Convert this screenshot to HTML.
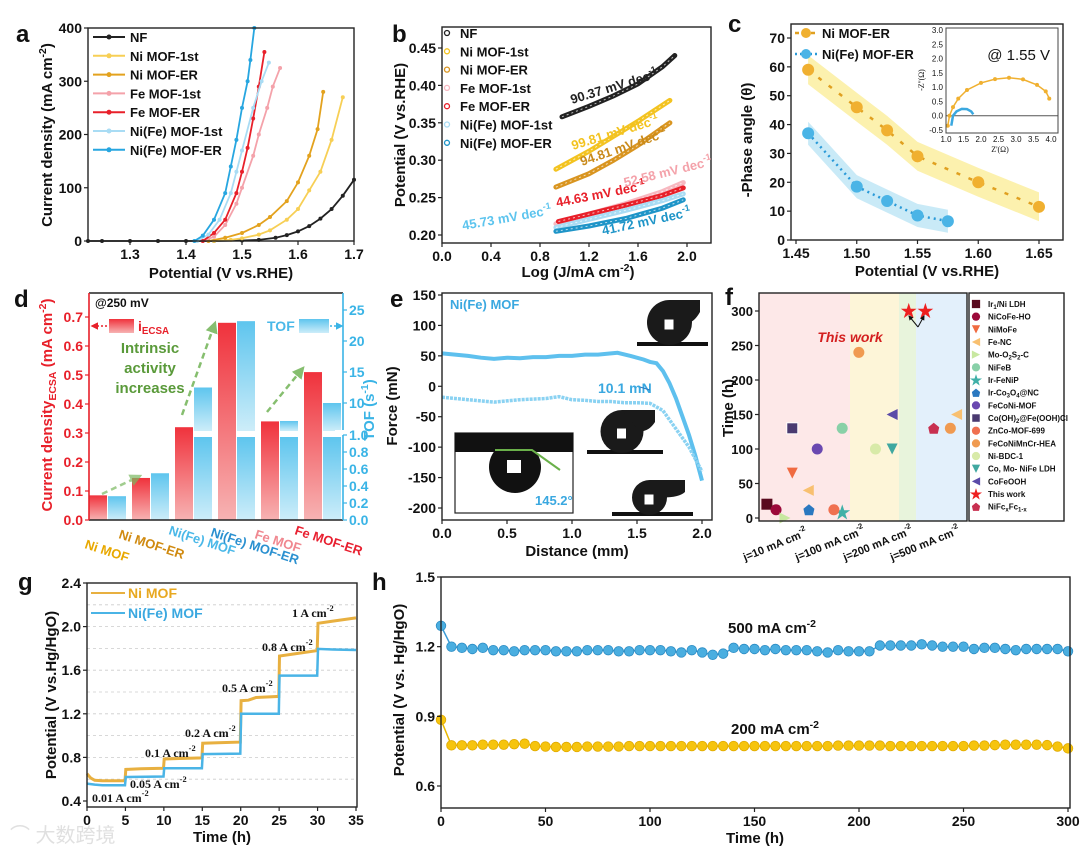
<!DOCTYPE html>
<html><head><meta charset="utf-8"><style>
html,body{margin:0;padding:0;background:#fff;}
svg{display:block;font-family:"Liberation Sans","Noto Sans CJK SC",sans-serif;}
</style></head><body>
<svg id="fig" width="1080" height="854" viewBox="0 0 1080 854" xmlns="http://www.w3.org/2000/svg">
<defs>
<linearGradient id="gr" x1="0" y1="0" x2="0" y2="1"><stop offset="0" stop-color="#f0323c"/><stop offset="1" stop-color="#f7b3b3"/></linearGradient>
<linearGradient id="gb" x1="0" y1="0" x2="0" y2="1"><stop offset="0" stop-color="#5ec5ee"/><stop offset="1" stop-color="#cdedf9"/></linearGradient>
<marker id="ah" viewBox="0 0 10 10" refX="8" refY="5" markerWidth="5" markerHeight="5" orient="auto"><path d="M0,0L10,5L0,10z" fill="context-stroke"/></marker>
</defs>
</svg>
<script>
// ---------- DATA ----------
const aNames=["NF","Ni MOF-1st","Ni MOF-ER","Fe MOF-1st","Fe MOF-ER","Ni(Fe) MOF-1st","Ni(Fe) MOF-ER"];
const aX=[[1.225,1.25,1.3,1.35,1.4,1.45,1.5,1.53,1.56,1.58,1.6,1.62,1.64,1.66,1.68,1.7],
[1.45,1.48,1.5,1.53,1.55,1.58,1.6,1.62,1.64,1.66,1.68],
[1.44,1.47,1.5,1.53,1.55,1.58,1.6,1.62,1.635,1.645],
[1.43,1.45,1.47,1.49,1.5,1.52,1.53,1.545,1.555,1.568],
[1.43,1.45,1.47,1.49,1.5,1.51,1.52,1.53,1.54],
[1.42,1.44,1.46,1.48,1.49,1.5,1.52,1.535,1.548],
[1.415,1.43,1.45,1.47,1.48,1.49,1.5,1.51,1.515,1.522]];
const aY=[[0,0,0,0,0,0,1,2,6,11,18,28,42,60,85,115],
[0,2,5,12,20,40,60,95,130,190,270],
[0,6,15,30,45,75,110,160,210,280],
[0,8,30,70,100,160,200,250,290,325],
[0,15,40,90,130,175,230,290,355],
[0,12,40,90,130,170,250,300,335],
[0,10,40,90,140,190,250,300,340,400]];
const aCol=["#222","#f7cf55","#e3a21e","#f4a2aa","#e8202a","#a9dcf4","#27a6e0"];
const bX=[[0.98,1.2,1.4,1.6,1.8,1.9],[0.93,1.2,1.4,1.6,1.86],[0.93,1.2,1.4,1.6,1.86],[0.93,1.2,1.5,1.8,1.97],[0.95,1.2,1.5,1.8,1.97],[0.93,1.2,1.5,1.8,1.97],[0.93,1.2,1.5,1.8,1.97]];
const bY=[[0.358,0.372,0.386,0.402,0.425,0.44],[0.288,0.312,0.332,0.352,0.38],[0.264,0.282,0.3,0.32,0.35],[0.215,0.228,0.242,0.258,0.27],[0.218,0.228,0.24,0.253,0.263],[0.21,0.221,0.233,0.246,0.255],[0.205,0.212,0.222,0.236,0.247]];
const bCol=["#222","#f3c320","#d99520","#f7b8c0","#e8202a","#a9dcf4","#1f95c8"];
const bSlopes=["90.37 mV dec","99.81 mV dec","94.81 mV dec","52.58 mV dec","44.63 mV dec","45.73 mV dec","41.72 mV dec"];
const cXni=[1.46,1.50,1.525,1.55,1.60,1.65], cYni=[59,46,38,29,20,11.5];
const cXfe=[1.46,1.50,1.525,1.55,1.575], cYfe=[37,18.5,13.5,8.5,6.5];
const inXni=[1.05,1.1,1.2,1.35,1.6,2.0,2.4,2.8,3.2,3.6,3.85,3.95], inYni=[-0.35,0,0.3,0.6,0.9,1.15,1.28,1.33,1.27,1.08,0.85,0.6];
const inXfe=[1.15,1.2,1.3,1.45,1.6,1.72,1.78], inYfe=[-0.35,0,0.15,0.24,0.23,0.15,0.05];
const dCats=["Ni MOF","Ni MOF-ER","Ni(Fe) MOF","Ni(Fe) MOF-ER","Fe MOF","Fe MOF-ER"];
const dEcsa=[0.085,0.145,0.32,0.68,0.34,0.51];
const dTof=[0.28,0.55,12.5,23.2,7.1,10];
const eXup=[0,0.1,0.2,0.3,0.4,0.5,0.6,0.7,0.8,0.9,1.0,1.1,1.2,1.3,1.35,1.45,1.55,1.6,1.65,1.7,1.75,1.8,1.85,1.9,1.95,2.0];
const eYup=[54,52,50,47,45,47,46,48,48,50,50,52,52,54,55,50,44,40,38,25,5,-20,-50,-80,-115,-155];
const eXlo=[0,0.1,0.2,0.3,0.4,0.5,0.6,0.7,0.8,0.9,1.0,1.1,1.2,1.3,1.4,1.5,1.6,1.7,1.75,1.8,1.85,1.9,1.95,2.0];
const eYlo=[-18,-20,-22,-24,-26,-24,-22,-21,-20,-17,-22,-23,-25,-25,-27,-27,-28,-40,-55,-70,-85,-100,-120,-140];
const fNames=["Ir1/Ni LDH","NiCoFe-HO","NiMoFe","Fe-NC","Mo-O2S2-C","NiFeB","Ir-FeNiP","Ir-Co3O4@NC","FeCoNi-MOF","Co(OH)2@Fe(OOH)Cl","ZnCo-MOF-699","FeCoNiMnCr-HEA","Ni-BDC-1","Co, Mo- NiFe LDH","CoFeOOH","This work","NiFcxFc1-x"];
const fLeg=["Ir<tspan font-size='6' dy='2'>1</tspan><tspan dy='-2'>/Ni LDH</tspan>","NiCoFe-HO","NiMoFe","Fe-NC","Mo-O<tspan font-size='6' dy='2'>2</tspan><tspan dy='-2'>S</tspan><tspan font-size='6' dy='2'>2</tspan><tspan dy='-2'>-C</tspan>","NiFeB","Ir-FeNiP","Ir-Co<tspan font-size='6' dy='2'>3</tspan><tspan dy='-2'>O</tspan><tspan font-size='6' dy='2'>4</tspan><tspan dy='-2'>@NC</tspan>","FeCoNi-MOF","Co(OH)<tspan font-size='6' dy='2'>2</tspan><tspan dy='-2'>@Fe(OOH)Cl</tspan>","ZnCo-MOF-699","FeCoNiMnCr-HEA","Ni-BDC-1","Co, Mo- NiFe LDH","CoFeOOH","This work","NiFc<tspan font-size='6' dy='2'>x</tspan><tspan dy='-2'>Fc</tspan><tspan font-size='6' dy='2'>1-x</tspan>"];
const fCol=["#5a0a1e","#9c0a3a","#f06a40","#f8c070","#c8e8a0","#88d0a8","#40b0a8","#2a78c0","#6a48b0","#4a3a70","#f07050","#f09a50","#d8eaa8","#40a8a0","#5a4aa8","#ee2020","#c83050"];
const fShape=["sq","ci","tri","tl","tr","ci","star","pent","ci","sqh","ci","ci","ci","tri","tl","star","pent"];
const fPos=[[3.8],[8.2],[16],[23.7,95],[12.5],[40],[40],[24],[28],[16],[36],[48,92],[56],[64],[64],[72,80],[84]];
const fHrs=[[20],[12],[65],[40,150],[0],[130],[8],[12],[100],[130],[12],[240,130],[100],[100],[150],[300,300],[130]];
const fCatLabels=["j=10 mA cm","j=100 mA cm","j=200 mA cm","j=500 mA cm"];
const gTni=[0,0.5,1,2,3,4,4.95,5.05,7,9.95,10.05,12,14.95,15.05,17,19.95,20.05,21,22,24.95,25.05,27,29.95,30.05,32,35];
const gVni=[0.65,0.61,0.59,0.585,0.585,0.585,0.585,0.69,0.695,0.70,0.785,0.79,0.795,0.93,0.935,0.94,1.32,1.325,1.35,1.36,1.73,1.75,1.78,2.03,2.05,2.08];
const gTfe=[0,1,2,4.95,5.05,9.95,10.05,14.95,15.05,19.95,20.05,24.95,25.05,29.95,30.05,32,35];
const gVfe=[0.56,0.55,0.545,0.545,0.62,0.625,0.70,0.70,0.83,0.835,1.20,1.20,1.55,1.55,1.795,1.79,1.785];
const gSteps=["0.01 A cm","0.05 A cm","0.1 A cm","0.2 A cm","0.5 A cm","0.8 A cm","1 A cm"];
const hT=[0,5,10,15,20,25,30,35,40,45,50,55,60,65,70,75,80,85,90,95,100,105,110,115,120,125,130,135,140,145,150,155,160,165,170,175,180,185,190,195,200,205,210,215,220,225,230,235,240,245,250,255,260,265,270,275,280,285,290,295,300];
const h500=[1.29,1.2,1.195,1.19,1.195,1.185,1.185,1.18,1.185,1.185,1.185,1.18,1.18,1.18,1.185,1.185,1.185,1.18,1.18,1.185,1.185,1.185,1.18,1.175,1.185,1.175,1.165,1.17,1.195,1.19,1.19,1.185,1.19,1.185,1.185,1.185,1.18,1.175,1.185,1.18,1.18,1.18,1.205,1.205,1.205,1.205,1.21,1.205,1.2,1.2,1.2,1.19,1.195,1.195,1.19,1.185,1.19,1.19,1.19,1.19,1.18];
const h200=[0.885,0.775,0.775,0.775,0.778,0.778,0.778,0.78,0.782,0.772,0.77,0.768,0.768,0.768,0.77,0.77,0.77,0.77,0.772,0.772,0.772,0.772,0.772,0.772,0.772,0.772,0.772,0.772,0.772,0.772,0.772,0.772,0.772,0.772,0.772,0.772,0.772,0.772,0.774,0.774,0.774,0.774,0.774,0.772,0.772,0.772,0.772,0.772,0.772,0.772,0.772,0.774,0.774,0.776,0.778,0.778,0.778,0.778,0.776,0.77,0.762];

// ---------- HELPERS ----------
const NS="http://www.w3.org/2000/svg";
const svg=document.getElementById('fig');
function mk(tag,a,p){const e=document.createElementNS(NS,tag);for(const k in a)e.setAttribute(k,a[k]);(p||svg).appendChild(e);return e;}
function nm(e,n){


return e;}
function lin(d0,d1,r0,r1){return v=>r0+(v-d0)*(r1-r0)/(d1-d0);}
function T(x,y,html,size,o,name){o=o||{};const t=mk('text',{x:x,y:y,'font-size':size,'font-weight':o.w||'bold',fill:o.fill||'#111','text-anchor':o.a||'start'});
if(o.rot!==undefined)t.setAttribute('transform','rotate('+o.rot+' '+x+' '+y+')');
if(o.fam)t.setAttribute('font-family',o.fam);if(o.st)t.setAttribute('font-style',o.st);
t.innerHTML=html;nm(t,name||'label');return t;}
const SUP=s=>"<tspan font-size='70%' dy='-6'>"+s+"</tspan>";
function box(x0,y0,x1,y1,name){const r=mk('rect',{x:x0,y:y0,width:x1-x0,height:y1-y0,fill:'none',stroke:'#222','stroke-width':1.4});nm(r,name);}
function xt(vals,s,yb,fmt,fs,col){vals.forEach(v=>{const l=mk('line',{x1:s(v),y1:yb,x2:s(v),y2:yb+4,stroke:col||'#222','stroke-width':1.2});nm(l,'x-tick');T(s(v),yb+18,fmt(v),fs||14,{a:'middle',fill:col||'#111'},'x-tick-label');});}
function yt(vals,s,xl,fmt,fs,col,right){vals.forEach(v=>{const d=right?4:-4;const l=mk('line',{x1:xl,y1:s(v),x2:xl+d,y2:s(v),stroke:col||'#222','stroke-width':1.2});nm(l,'y-tick');T(right?xl+6:xl-6,s(v)+5,fmt(v),fs||14,{a:right?'start':'end',fill:col||'#111'},'y-tick-label');});}
function poly(xs,ys,sx,sy,a,name){const pts=xs.map((x,i)=>sx(x).toFixed(1)+','+sy(ys[i]).toFixed(1)).join(' ');const p=mk('polyline',Object.assign({points:pts,fill:'none'},a));nm(p,name);return p;}
function path(d,a,name){const p=mk('path',Object.assign({d:d},a));nm(p,name);return p;}
function band(xs,ys,sx,sy,w,col,name){
const up=xs.map((x,i)=>sx(x).toFixed(1)+','+sy(ys[i]+w).toFixed(1));
const lo=xs.map((x,i)=>sx(x).toFixed(1)+','+sy(ys[i]-w).toFixed(1)).reverse();
const p=mk('polygon',{points:up.concat(lo).join(' '),fill:col,opacity:0.85});nm(p,name);}

// ---------- PANEL A ----------
(function(){
const sx=lin(1.3,1.7,130,354), sy=lin(0,400,241,28);
T(16,42,'a',24,{},'panel-a-letter');
aX.forEach((xs,i)=>{poly(xs,aY[i],sx,sy,{stroke:aCol[i],'stroke-width':1.8},'lsv-curve-'+i);
xs.forEach((x,j)=>{const c=mk('circle',{cx:sx(x),cy:sy(aY[i][j]),r:2,fill:aCol[i]});nm(c,'lsv-point');});});
box(88,28,354,241,'panel-a-plot-area');
xt([1.3,1.4,1.5,1.6,1.7],sx,241,v=>v.toFixed(1));
yt([0,100,200,300,400],sy,88,v=>v);
T(221,278,'Potential (V vs.RHE)',15,{a:'middle'},'x-axis-title');
T(52,135,'Current density (mA cm'+SUP('-2')+"<tspan dy='6'>)</tspan>",15,{a:'middle',rot:-90},'y-axis-title');
aNames.forEach((n,i)=>{const y=37+i*18.8;const l=mk('line',{x1:93,y1:y,x2:125,y2:y,stroke:aCol[i],'stroke-width':2});nm(l,'legend-line');
const c=mk('circle',{cx:109,cy:y,r:2.5,fill:aCol[i]});nm(c,'legend-marker');T(130,y+5,n,13,{},'legend-entry');});
})();

// ---------- PANEL B ----------
(function(){
const sx=lin(0,2,442,687), sy=lin(0.2,0.45,235,48);
T(392,42,'b',24,{},'panel-b-letter');
bX.forEach((xs,i)=>{poly(xs,bY[i],sx,sy,{stroke:bCol[i],'stroke-width':5,'stroke-linecap':'round'},'tafel-line-'+i);
poly(xs,bY[i],sx,sy,{stroke:'#fff','stroke-width':1,'stroke-dasharray':'2 3','opacity':0.7},'tafel-texture');});
box(442,27,711,243,'panel-b-plot-area');
xt([0,0.4,0.8,1.2,1.6,2.0],sx,243,v=>v.toFixed(1));
yt([0.2,0.25,0.3,0.35,0.4,0.45],sy,442,v=>v.toFixed(2));
T(578,277,'Log (J/mA cm'+SUP('-2')+"<tspan dy='6'>)</tspan>",15,{a:'middle'},'x-axis-title');
T(405,135,'Potential (V vs.RHE)',15,{a:'middle',rot:-90},'y-axis-title');
aNames.forEach((n,i)=>{const y=33+i*18.3;const c=mk('circle',{cx:447,cy:y,r:2.5,fill:'none',stroke:bCol[i],'stroke-width':1.3});nm(c,'legend-marker');T(460,y+5,n,13,{},'legend-entry');});
const lab=[[572,104,-17,'#222'],[573,150,-17,'#f3c320'],[582,166,-19,'#c98a1a'],[625,187,-14,'#f4a2aa'],[557,207,-11,'#e8202a'],[463,230,-10,'#5cc4ee'],[603,235,-12,'#1f95c8']];
lab.forEach((L,i)=>T(L[0],L[1],bSlopes[i]+SUP('-1'),13,{fill:L[3],rot:L[2]},'slope-label'));
})();

// ---------- PANEL C ----------
(function(){
const sx=lin(1.45,1.65,796,1039), sy=lin(0,70,240,38);
T(728,32,'c',24,{},'panel-c-letter');
band(cXni,cYni,sx,sy,5,'#fbeea0','ni-band');
band(cXfe,cYfe,sx,sy,4,'#bfe6f6','nife-band');
poly(cXni,cYni,sx,sy,{stroke:'#e0a020','stroke-width':2.5,'stroke-dasharray':'4 9'},'ni-mof-er-line');
poly(cXfe,cYfe,sx,sy,{stroke:'#2a9ad8','stroke-width':2.5,'stroke-dasharray':'2 4'},'nife-mof-er-line');
cXni.forEach((x,i)=>{const c=mk('circle',{cx:sx(x),cy:sy(cYni[i]),r:6,fill:'#f0b030'});nm(c,'ni-point');});
cXfe.forEach((x,i)=>{const c=mk('circle',{cx:sx(x),cy:sy(cYfe[i]),r:6,fill:'#4ab4e6'});nm(c,'nife-point');});
box(791,24,1063,240,'panel-c-plot-area');
xt([1.45,1.5,1.55,1.6,1.65],sx,240,v=>v.toFixed(2));
yt([0,10,20,30,40,50,60,70],sy,791,v=>v);
T(927,276,'Potential (V vs.RHE)',15,{a:'middle'},'x-axis-title');
T(752,140,'-Phase angle (θ)',15,{a:'middle',rot:-90},'y-axis-title');
const l1=mk('line',{x1:795,y1:33,x2:818,y2:33,stroke:'#e0a020','stroke-width':2.5,'stroke-dasharray':'4 4'});nm(l1,'legend-line');
const m1=mk('circle',{cx:806,cy:33,r:5,fill:'#f0b030'});nm(m1,'legend-marker');
T(822,38,'Ni MOF-ER',13,{},'legend-entry');
const l2=mk('line',{x1:795,y1:54,x2:818,y2:54,stroke:'#2a9ad8','stroke-width':2.5,'stroke-dasharray':'2 3'});nm(l2,'legend-line');
const m2=mk('circle',{cx:806,cy:54,r:5,fill:'#4ab4e6'});nm(m2,'legend-marker');
T(822,59,'Ni(Fe) MOF-ER',13,{},'legend-entry');
const ix=lin(1,4,946,1051), iy=lin(-0.5,3,130,30);
const bg=mk('rect',{x:922,y:28,width:136,height:105,fill:'#fff'});nm(bg,'inset-background');
const z=mk('line',{x1:946,y1:iy(0),x2:1058,y2:iy(0),stroke:'#555','stroke-width':1});nm(z,'inset-zero-line');
poly(inXni,inYni,ix,iy,{stroke:'#f0b030','stroke-width':1.5},'inset-ni-curve');
inXni.forEach((x,i)=>{const c=mk('circle',{cx:ix(x),cy:iy(inYni[i]),r:2,fill:'#f0b030'});nm(c,'inset-ni-point');});
poly(inXfe,inYfe,ix,iy,{stroke:'#3aa8e0','stroke-width':2.5},'inset-nife-curve');
const ib=mk('rect',{x:946,y:28,width:112,height:105,fill:'none',stroke:'#444','stroke-width':1});nm(ib,'inset-frame');
[1,1.5,2,2.5,3,3.5,4].forEach(v=>T(ix(v),142,v.toFixed(1),8,{a:'middle',w:'normal'},'inset-x-tick'));
[-0.5,0,0.5,1,1.5,2,2.5,3].forEach(v=>T(943,iy(v)+3,v.toFixed(1),8,{a:'end',w:'normal'},'inset-y-tick'));
T(1000,152,"Z'(Ω)",8,{a:'middle',w:'normal',fam:'Liberation Serif'},'inset-x-title');
T(924,80,"-Z''(Ω)",8,{a:'middle',w:'normal',rot:-90,fam:'Liberation Serif'},'inset-y-title');
T(1050,60,'@ 1.55 V',15,{a:'end',w:'normal'},'inset-annotation');
})();

// ---------- PANEL D ----------
(function(){
const sy=lin(0,0.7,520,317), tLo=lin(0,1,520,435), tHi=lin(10,25,403,310);
T(14,307,'d',24,{},'panel-d-letter');
dCats.forEach((c,i)=>{const cx=108+i*43;
const r=mk('rect',{x:cx-19,y:sy(dEcsa[i]),width:18,height:520-sy(dEcsa[i]),fill:'url(#gr)'});nm(r,'ecsa-bar');
const v=dTof[i];
if(v<=1){const b=mk('rect',{x:cx,y:tLo(v),width:18,height:520-tLo(v),fill:'url(#gb)'});nm(b,'tof-bar');}
else{const b=mk('rect',{x:cx,y:437,width:18,height:83,fill:'url(#gb)'});nm(b,'tof-bar-lower');
const b2=mk('rect',{x:cx,y:tHi(v),width:18,height:431-tHi(v),fill:'url(#gb)'});nm(b2,'tof-bar-upper');}
});
const lcol=["#e8a800","#d08a10","#4ab8e8","#2a90d0","#f08890","#e82030"];
const lx=[[84,548],[118,538],[168,534],[210,536],[254,538],[294,534]];
dCats.forEach((c,i)=>T(lx[i][0],lx[i][1],c,13,{fill:lcol[i],rot:18},'category-label'));
const ax=mk('line',{x1:89,y1:520,x2:343,y2:520,stroke:'#222','stroke-width':1.4});nm(ax,'x-axis');
const lt=mk('line',{x1:89,y1:293,x2:343,y2:293,stroke:'#222','stroke-width':1.4});nm(lt,'top-frame');
const la=mk('line',{x1:89,y1:293,x2:89,y2:520,stroke:'#e8202a','stroke-width':1.6});nm(la,'left-axis');
const ra=mk('line',{x1:343,y1:293,x2:343,y2:520,stroke:'#3ab4e6','stroke-width':1.6});nm(ra,'right-axis');
const br=mk('rect',{x:335,y:430,width:18,height:5,fill:'#fff'});nm(br,'axis-break');
yt([0,0.1,0.2,0.3,0.4,0.5,0.6,0.7],sy,89,v=>v.toFixed(1),14,'#e8202a');
yt([0,0.2,0.4,0.6,0.8,1.0],tLo,343,v=>v.toFixed(1),14,'#3ab4e6',true);
yt([10,15,20,25],tHi,343,v=>v,14,'#3ab4e6',true);
T(52,405,'Current density<tspan font-size="70%" dy="4">ECSA</tspan><tspan dy="-4"> (mA cm</tspan>'+SUP('-2')+"<tspan dy='6'>)</tspan>",15,{a:'middle',rot:-90,fill:'#e8202a'},'left-y-axis-title');
T(374,410,'TOF (s'+SUP('-1')+"<tspan dy='6'>)</tspan>",15,{a:'middle',rot:-90,fill:'#3ab4e6'},'right-y-axis-title');
T(95,307,'@250 mV',12,{},'condition-label');
const ri=mk('rect',{x:109,y:319,width:25,height:14,fill:'url(#gr)'});nm(ri,'ecsa-legend-swatch');
path('M107,326 L92,326',{stroke:'#e8202a','stroke-width':1.5,'stroke-dasharray':'2 2','marker-end':'url(#ah)',fill:'none'},'ecsa-legend-arrow');
T(138,331,'i<tspan font-size="70%" dy="3">ECSA</tspan>',14,{fill:'#e8202a'},'ecsa-legend-label');
T(267,331,'TOF',14,{fill:'#4ab8e8'},'tof-legend-label');
const bi=mk('rect',{x:299,y:319,width:30,height:14,fill:'url(#gb)'});nm(bi,'tof-legend-swatch');
path('M330,326 L342,326',{stroke:'#3ab4e6','stroke-width':1.5,'stroke-dasharray':'2 2','marker-end':'url(#ah)',fill:'none'},'tof-legend-arrow');
T(150,353,'Intrinsic',15,{a:'middle',fill:'#5a9a3a'},'annotation-line1');
T(150,373,'activity',15,{a:'middle',fill:'#5a9a3a'},'annotation-line2');
T(150,393,'increases',15,{a:'middle',fill:'#5a9a3a'},'annotation-line3');
[['M102,494 L140,476',0.7],['M182,415 L215,323',0.9],['M267,412 L303,368',0.9]].forEach(a=>path(a[0],{stroke:'#7ab860','stroke-width':2.5,'stroke-dasharray':'6 4',fill:'none','marker-end':'url(#ah)',opacity:a[1]},'trend-arrow'));
})();

// ---------- PANEL E ----------
(function(){
const sx=lin(0,2,442,702), sy=lin(-200,150,508,295);
T(390,307,'e',24,{},'panel-e-letter');
poly(eXup,eYup,sx,sy,{stroke:'#5ec0ee','stroke-width':4},'advancing-force-curve');
poly(eXlo,eYlo,sx,sy,{stroke:'#8ad2f2','stroke-width':3.5,'stroke-dasharray':'3 1'},'receding-force-curve');
box(442,293,712,520,'panel-e-plot-area');
xt([0,0.5,1,1.5,2],sx,520,v=>v.toFixed(1));
yt([-200,-150,-100,-50,0,50,100,150],sy,442,v=>v);
T(577,556,'Distance (mm)',15,{a:'middle'},'x-axis-title');
T(397,406,'Force (mN)',15,{a:'middle',rot:-90},'y-axis-title');
T(450,309,'Ni(Fe) MOF',13,{fill:'#3aa8e0'},'series-label');
T(598,393,'10.1 mN',14,{fill:'#3aa8e0'},'force-annotation');
const dm=mk('line',{x1:640,y1:387,x2:650,y2:390,stroke:'#2a7ac0','stroke-width':1});nm(dm,'marker-tick');
[[645,300,700,345],[595,410,655,453],[620,480,685,515]].forEach((d,i)=>{
const g=mk('rect',{x:d[0]-8,y:d[3]-3,width:d[2]-d[0]+16,height:4,fill:'#111'});nm(g,'droplet-substrate');
const cxm=(d[0]+d[2])/2-3, r=(d[3]-d[1])/2;
const dr=mk('circle',{cx:cxm,cy:d[1]+r,r:r,fill:'#1a1a1a'});nm(dr,'droplet-image');
const tail=mk('path',{d:'M'+cxm+','+d[1]+' L'+d[2]+','+d[1]+' L'+d[2]+','+(d[1]+12)+' Q'+(d[2]-6)+','+(d[1]+r)+' '+(cxm+r-4)+','+(d[1]+r)+'Z',fill:'#1a1a1a'});nm(tail,'droplet-tail');
const h=mk('rect',{x:cxm-5,y:d[1]+r-3,width:9,height:10,fill:'#fff'});nm(h,'droplet-highlight');});
const ib=mk('rect',{x:455,y:433,width:118,height:80,fill:'#fff',stroke:'#222','stroke-width':1.2});nm(ib,'contact-angle-inset');
const tb=mk('rect',{x:455,y:433,width:118,height:19,fill:'#111'});nm(tb,'inset-needle-band');
const cc=mk('circle',{cx:515,cy:467,r:26,fill:'#111'});nm(cc,'inset-droplet');
const sq=mk('rect',{x:507,y:460,width:14,height:13,fill:'#fff'});nm(sq,'inset-droplet-highlight');
path('M495,450 L532,450 L560,470',{stroke:'#6ab04a','stroke-width':2,fill:'none'},'contact-angle-lines');
T(535,505,'145.2°',13,{fill:'#3aa8e0'},'contact-angle-value');
})();

// ---------- PANEL F ----------
(function(){
const sx=lin(0,100,759,967), sy=lin(0,300,518,311);
T(725,305,'f',24,{},'panel-f-letter');
[[0,43.75,'#fde8e8'],[43.75,67.3,'#fdf5d8'],[67.3,75.5,'#e8f4dc'],[75.5,100,'#e3f0fb']].forEach(r=>{const e=mk('rect',{x:sx(r[0]),y:293,width:sx(r[1])-sx(r[0]),height:228,fill:r[2]});nm(e,'current-density-region');});
function marker(shape,x,y,col){let e;const s=5.5;
if(shape==='sq'||shape==='sqh'){e=mk('rect',{x:x-s,y:y-s,width:2*s,height:2*s,fill:col});if(shape==='sqh')e.setAttribute('stroke','#fff');}
else if(shape==='ci')e=mk('circle',{cx:x,cy:y,r:s,fill:col});
else if(shape==='tri')e=mk('path',{d:'M'+(x-s)+','+(y-s)+'L'+(x+s)+','+(y-s)+'L'+x+','+(y+s)+'Z',fill:col});
else if(shape==='tl')e=mk('path',{d:'M'+(x+s)+','+(y-s)+'L'+(x+s)+','+(y+s)+'L'+(x-s)+','+y+'Z',fill:col});
else if(shape==='tr')e=mk('path',{d:'M'+(x-s)+','+(y-s)+'L'+(x-s)+','+(y+s)+'L'+(x+s)+','+y+'Z',fill:col});
else if(shape==='pent')e=mk('path',{d:'M'+x+','+(y-s)+'L'+(x+s)+','+(y-1)+'L'+(x+4)+','+(y+s)+'L'+(x-4)+','+(y+s)+'L'+(x-s)+','+(y-1)+'Z',fill:col});
else {e=mk('text',{x:x,y:y+6,'font-size':17,fill:col,'text-anchor':'middle'});e.textContent='★';}
return e;}
fPos.forEach((ps,i)=>ps.forEach((p,j)=>{const e=marker(fShape[i],sx(p),sy(fHrs[i][j]),fCol[i]);nm(e,'stability-point');}));
T(850,342,'This work',14,{fill:'#d42020',st:'italic',a:'middle'},'this-work-label');
path('M918,327 L909,316',{stroke:'#111','stroke-width':1,fill:'none','marker-end':'url(#ah)'},'this-work-arrow');
path('M918,327 L924,316',{stroke:'#111','stroke-width':1,fill:'none','marker-end':'url(#ah)'},'this-work-arrow');
box(759,293,967,521,'panel-f-plot-area');
yt([0,50,100,150,200,250,300],sy,759,v=>v,13);
T(733,408,'Time (h)',15,{a:'middle',rot:-90},'y-axis-title');
const cx=[793,845,893,940];
fCatLabels.forEach((c,i)=>T(cx[i]-48,561,c+SUP('-2'),11,{rot:-22},'category-label'));
const lb=mk('rect',{x:969,y:293,width:95,height:228,fill:'#fff',stroke:'#222','stroke-width':1.4});nm(lb,'legend-box');
fLeg.forEach((n,i)=>{const y=304+i*12.67;const e=marker(fShape[i],976,y,fCol[i]);e.setAttribute('transform','translate(976 '+y+') scale(0.75) translate(-976 -'+y+')');nm(e,'legend-marker');
T(988,y+3,n,8,{},'legend-entry');});
})();

// ---------- PANEL G ----------
(function(){
const sx=lin(0,35,87,356), sy=lin(0.4,2.4,801,583);
T(18,590,'g',24,{},'panel-g-letter');
[0.6,0.8,1.0,1.2,1.4,1.6,1.8,2.0,2.2].forEach(v=>{const l=mk('line',{x1:87,y1:sy(v),x2:357,y2:sy(v),stroke:'#ccc','stroke-width':0.8,'stroke-dasharray':'3 3'});nm(l,'grid-line');});
poly(gTni,gVni,sx,sy,{stroke:'#e8b040','stroke-width':3},'ni-mof-step-curve');
poly(gTfe,gVfe,sx,sy,{stroke:'#4ab4e6','stroke-width':2.5},'nife-mof-step-curve');
box(87,583,357,807,'panel-g-plot-area');
xt([0,5,10,15,20,25,30,35],sx,807,v=>v);
yt([0.4,0.8,1.2,1.6,2.0,2.4],sy,87,v=>v.toFixed(1));
T(222,842,'Time (h)',15,{a:'middle'},'x-axis-title');
T(56,695,'Potential (V vs.Hg/HgO)',15,{a:'middle',rot:-90},'y-axis-title');
const sp=[[92,802],[130,788],[145,757],[185,737],[222,692],[262,651],[292,617]];
gSteps.forEach((s,i)=>T(sp[i][0],sp[i][1],s+SUP('-2'),12,{fam:'Liberation Serif'},'current-step-label'));
const l1=mk('line',{x1:91,y1:593,x2:125,y2:593,stroke:'#e8b040','stroke-width':2});nm(l1,'legend-line');
T(128,598,'Ni MOF',14,{fill:'#e8a820'},'legend-entry');
const l2=mk('line',{x1:91,y1:613,x2:125,y2:613,stroke:'#4ab4e6','stroke-width':2});nm(l2,'legend-line');
T(128,618,'Ni(Fe) MOF',14,{fill:'#3aa8e0'},'legend-entry');
T(10,842,'⌒ 大数跨境',20,{fill:'#e0e0e0',w:'normal'},'watermark');
})();

// ---------- PANEL H ----------
(function(){
const sx=lin(0,300,441,1068), sy=lin(0.6,1.5,786,577);
T(372,590,'h',24,{},'panel-h-letter');
poly(hT,h500,sx,sy,{stroke:'#3a9ad6','stroke-width':1.5},'500-line');
hT.forEach((t,i)=>{const c=mk('circle',{cx:sx(t),cy:sy(h500[i]),r:4.8,fill:'#4aaee0',stroke:'#2c8cc4','stroke-width':0.8});nm(c,'500-point');});
poly(hT,h200,sx,sy,{stroke:'#e8b800','stroke-width':1.5},'200-line');
hT.forEach((t,i)=>{const c=mk('circle',{cx:sx(t),cy:sy(h200[i]),r:4.8,fill:'#f6c40e',stroke:'#e0aa00','stroke-width':0.8});nm(c,'200-point');});
box(441,577,1070,808,'panel-h-plot-area');
xt([0,50,100,150,200,250,300],sx,808,v=>v);
yt([0.6,0.9,1.2,1.5],sy,441,v=>v.toFixed(1));
T(755,843,'Time (h)',15,{a:'middle'},'x-axis-title');
T(404,690,'Potential (V vs. Hg/HgO)',15,{a:'middle',rot:-90},'y-axis-title');
T(772,633,'500 mA cm'+SUP('-2'),15,{a:'middle'},'500-label');
T(775,734,'200 mA cm'+SUP('-2'),15,{a:'middle'},'200-label');
})();
</script>
</body></html>
